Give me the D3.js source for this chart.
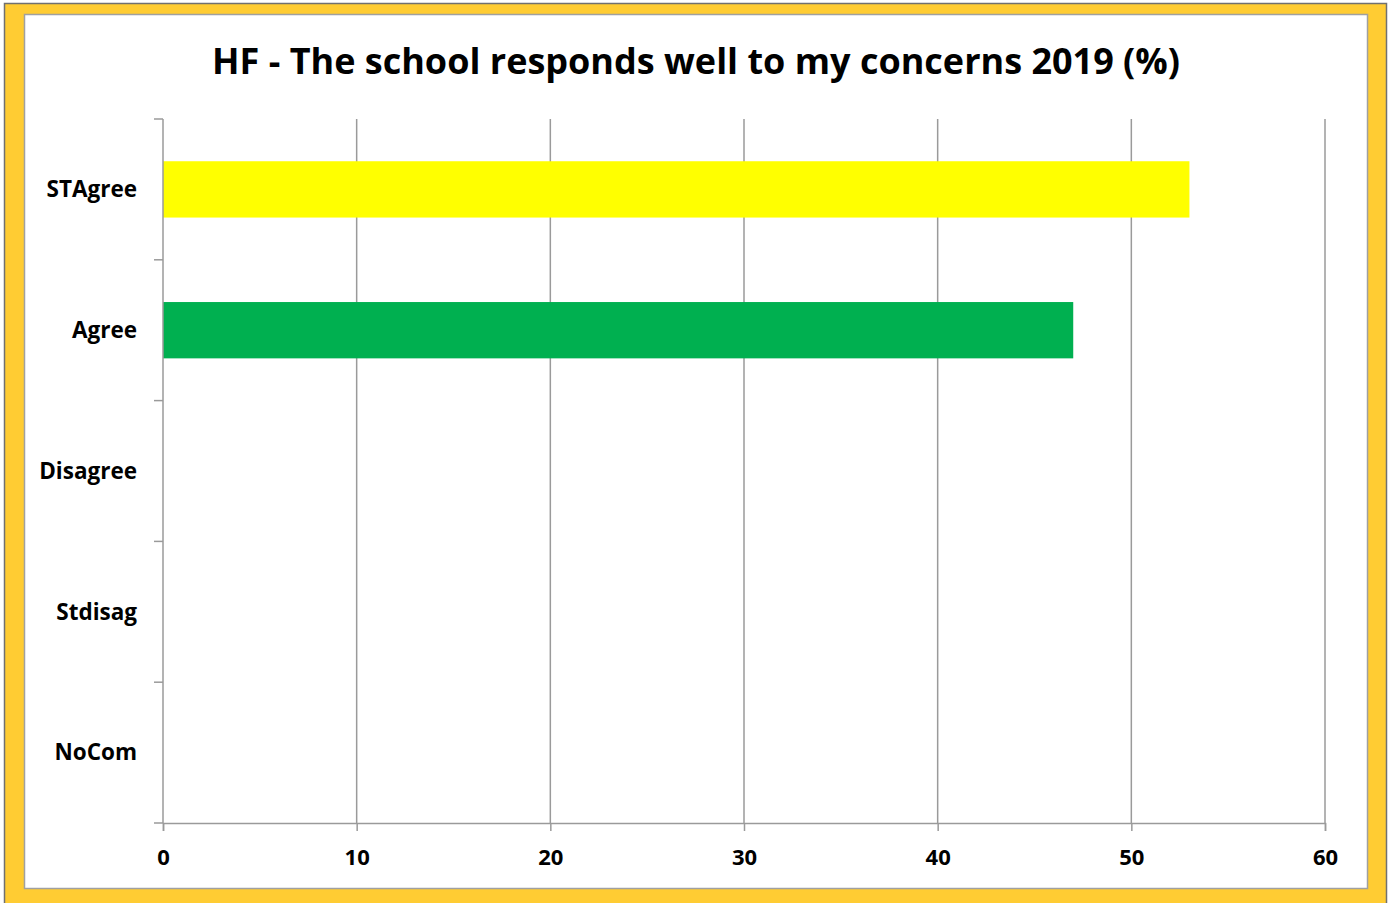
<!DOCTYPE html>
<html>
<head>
<meta charset="utf-8">
<script src="https://cdn.jsdelivr.net/npm/d3@7"></script>
<style>
  html, body { margin: 0; padding: 0; background: #ffffff; }
  svg { display: block; }
  text { font-family: "Open Sans", "Liberation Sans", sans-serif; font-weight: bold; fill: #000; }
</style>
</head>
<body>
<svg id="chart" width="1388" height="903"></svg>
<script>
// Survey responses (percent)
const categories = ["STAgree", "Agree", "Disagree", "Stdisag", "NoCom"];
const values = [53, 47, 0, 0, 0];
const barColors = ["#FFFF00", "#00B050", "#FF0000", "#C00000", "#7F7F7F"];
const xTicks = [0, 10, 20, 30, 40, 50, 60];
const title = "HF - The school responds well to my concerns 2019 (%)";

const svg = d3.select("#chart");

// Frame: gold border with white chart panel
svg.append("rect")
  .attr("x", 4.5).attr("y", 3.5).attr("width", 1382).attr("height", 910)
  .attr("fill", "#FFCC33").attr("stroke", "#707070").attr("stroke-width", 1.5);
svg.append("rect")
  .attr("x", 24.5).attr("y", 14.5).attr("width", 1343).attr("height", 874)
  .attr("fill", "#ffffff").attr("stroke", "#a0a0a0").attr("stroke-width", 1.5);

// Plot area
const plotLeft = 163, plotRight = 1325, plotTop = 119, plotBottom = 823;

const x = d3.scaleLinear().domain([0, 60]).range([plotLeft, plotRight]);
const y = d3.scaleBand().domain(categories).range([plotTop, plotBottom]).paddingInner(0.6).paddingOuter(0.3);
const yEdges = d3.scaleLinear().domain([0, categories.length]).range([plotTop, plotBottom]);

// Vertical gridlines
svg.append("g")
  .selectAll("line")
  .data(xTicks.slice(1))
  .join("line")
  .attr("x1", d => x(d)).attr("x2", d => x(d))
  .attr("y1", plotTop).attr("y2", plotBottom)
  .attr("stroke", "#9a9a9a").attr("stroke-width", 1.5);

// Bars
svg.append("g")
  .selectAll("rect")
  .data(categories)
  .join("rect")
  .attr("x", x(0))
  .attr("y", d => y(d))
  .attr("height", y.bandwidth())
  .attr("width", (d, i) => x(values[i]) - x(0))
  .attr("fill", (d, i) => barColors[i]);

// Bottom axis
const xAxis = svg.append("g")
  .attr("transform", `translate(0,${plotBottom})`)
  .call(d3.axisBottom(x).tickValues(xTicks).tickSize(8).tickPadding(18).tickFormat(d3.format("d")));
xAxis.select(".domain").attr("stroke", "#9a9a9a").attr("stroke-width", 1.5);
xAxis.selectAll(".tick line").attr("stroke", "#9a9a9a").attr("stroke-width", 1.5);
xAxis.selectAll("text")
  .style("font-family", "'Open Sans', 'Liberation Sans', sans-serif")
  .style("font-weight", "bold").attr("font-size", 22).attr("fill", "#000");

// Left axis: line with ticks at category boundaries
const yAxisG = svg.append("g");
yAxisG.append("line")
  .attr("x1", plotLeft).attr("x2", plotLeft).attr("y1", plotTop).attr("y2", plotBottom)
  .attr("stroke", "#9a9a9a").attr("stroke-width", 1.5);
yAxisG.selectAll("line.tick")
  .data(d3.range(categories.length + 1))
  .join("line")
  .attr("class", "tick")
  .attr("x1", plotLeft - 9).attr("x2", plotLeft)
  .attr("y1", d => yEdges(d)).attr("y2", d => yEdges(d))
  .attr("stroke", "#9a9a9a").attr("stroke-width", 1.5);

// Category labels
svg.append("g")
  .selectAll("text")
  .data(categories)
  .join("text")
  .attr("x", 137)
  .attr("y", d => y(d) + y.bandwidth() / 2)
  .attr("dy", "0.35em")
  .attr("text-anchor", "end")
  .attr("font-size", 22.5)
  .text(d => d);

// Title
svg.append("text")
  .attr("x", 696)
  .attr("y", 74)
  .attr("text-anchor", "middle")
  .attr("font-size", 36)
  .text(title);
</script>
</body>
</html>
